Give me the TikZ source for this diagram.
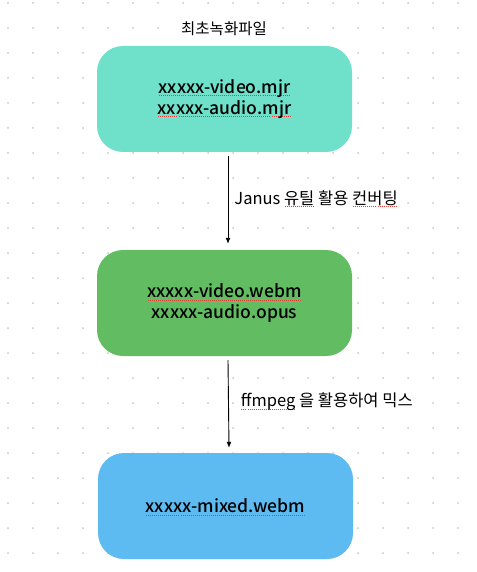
\documentclass[tikz,border=0pt]{standalone}
\usepackage{fontspec}
\setmainfont{Noto Sans CJK KR}[BoldFont={Noto Sans CJK KR Medium}]
\usetikzlibrary{arrows.meta}

\definecolor{mintbox}{HTML}{6FE0C9}
\definecolor{leafbox}{HTML}{62BC62}
\definecolor{skybox}{HTML}{5EBBF2}
\definecolor{griddot}{HTML}{C8C8C8}
\definecolor{spellred}{HTML}{E0403A}

% dotted red mark under a word
\newcommand\spellmark[1]{\setbox0=\hbox{#1}%
	\leavevmode\rlap{\raisebox{-2.8pt}[0pt][0pt]{\color{spellred}%
		\hbox to \wd0{\xleaders\hbox to 2pt{\hss\rule{1pt}{0.8pt}\hss}\hfil}}}\box0\relax}

\tikzset{
	filebox/.style={fill=#1,rounded corners=26pt,minimum width=255pt,
		minimum height=106pt,align=center,
		font=\fontsize{17.5}{21}\selectfont\bfseries},
	steplabel/.style={fill=white,inner sep=1pt,anchor=west,
		font=\fontsize{16.5}{19}\selectfont},
	flow/.style={-{Latex[length=6pt,width=5pt]},line width=0.9pt}
}

\begin{document}
\begin{tikzpicture}[x=1pt,y=-1pt]
	\path[use as bounding box,fill=white] (0,0) rectangle (476,572);
	\foreach \x in {8,33,...,458}
		\foreach \y in {3,28,...,553}
			\fill[griddot] (\x,\y) circle (1pt);

	\node[font=\fontsize{15.5}{19}\selectfont] (title) at (224,29) {최초녹화파일};
	\node[filebox=mintbox] (raw) at (224.5,99)
		{\spellmark{xxxxx-video.mjr}\\\spellmark{xxxxx-audio.mjr}};
	\node[filebox=leafbox] (conv) at (224.5,303)
		{\spellmark{xxxxx-video.webm}\\xxxxx-audio.opus};
	\node[filebox=skybox] (mixed) at (225.5,506)
		{\spellmark{xxxxx-mixed.webm}};

	\draw[flow] ([xshift=3.5pt,yshift=-4pt]raw.south) -- ([xshift=3.5pt,yshift=6pt]conv.north)
		node[steplabel,midway,xshift=5pt,yshift=2pt] (janus)
		{Janus \spellmark{유틸} 활용 \spellmark{컨버팅}};
	\draw[flow] ([xshift=3.5pt,yshift=-4pt]conv.south) -- ([xshift=3.5pt,yshift=5pt]mixed.north)
		node[steplabel,midway,xshift=11pt,yshift=2pt] (ffmpeg)
		{\spellmark{ffmpeg} 을 활용하여 믹스};
\end{tikzpicture}
\end{document}
